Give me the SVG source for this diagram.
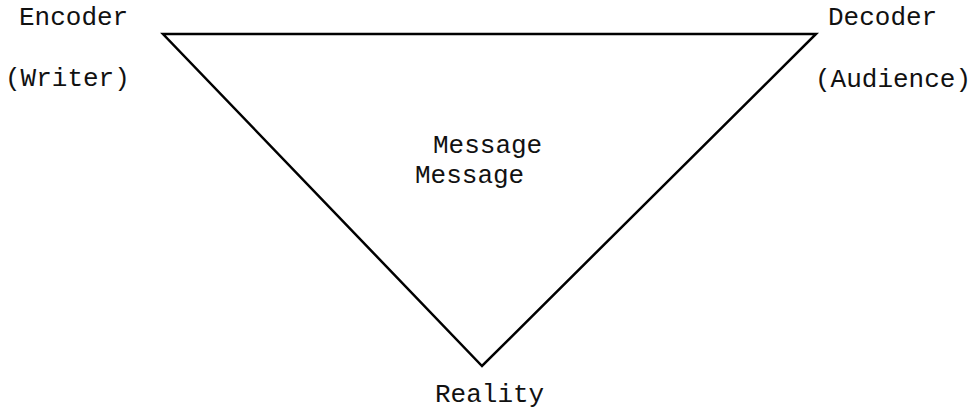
<svg xmlns="http://www.w3.org/2000/svg" width="973" height="411" viewBox="0 0 973 411">
<style>
.lbl{font-family:"Liberation Mono","DejaVu Sans Mono",monospace;font-size:26px;fill:#111;}
.edge{fill:none;stroke:#000;stroke-width:2.5;stroke-linejoin:miter;}
</style>
<rect width="973" height="411" fill="#fff"/>
<g id="connectors">
<polygon class="edge" points="163,34 816,34 482,366"/>
</g>
<g id="encoder">
<text class="lbl" x="19" y="25">Encoder</text>
<text class="lbl" x="5" y="86">(Writer)</text>
</g>
<g id="decoder">
<text class="lbl" x="828" y="25">Decoder</text>
<text class="lbl" x="815" y="87">(Audience)</text>
</g>
<g id="message">
<text class="lbl" x="433" y="153">Message</text>
<text class="lbl" x="415" y="183">Message</text>
</g>
<g id="reality">
<text class="lbl" x="435" y="402">Reality</text>
</g>
</svg>
